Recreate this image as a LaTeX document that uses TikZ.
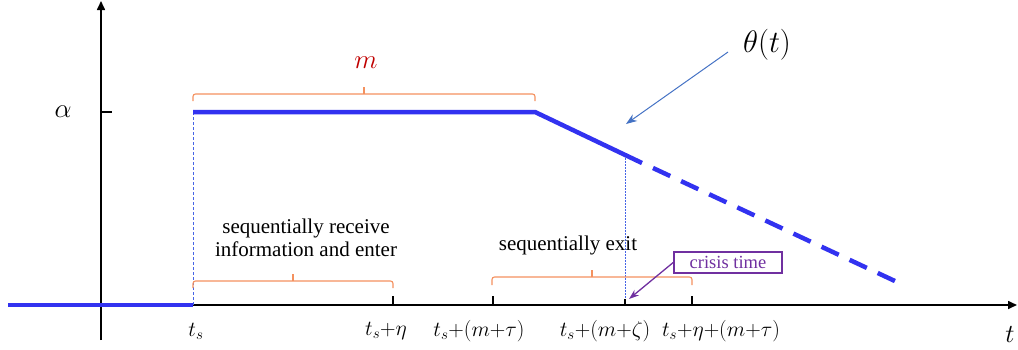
\RequirePackage{fix-cm}
\documentclass[tikz,border=0pt]{standalone}
\usepackage{fontspec}
\setmainfont{Liberation Serif}
\usetikzlibrary{arrows.meta, positioning}

\definecolor{lineblue}{RGB}{50,50,240}
\definecolor{arrowblue}{RGB}{68,114,196}
\definecolor{guideblue}{RGB}{70,100,230}
\definecolor{braceorange}{RGB}{244,145,95}
\definecolor{crisispurple}{RGB}{112,48,160}
\definecolor{mred}{RGB}{192,0,0}

\begin{document}
\begin{tikzpicture}[
    x=1pt, y=-1pt,
    axis/.style={line width=1.6pt, -{Triangle[length=9pt,width=8pt]}},
    tickmark/.style={line width=2.4pt},
    curve/.style={draw=lineblue, line width=4.5pt},
    guide/.style={draw=guideblue, line width=1pt},
    bracket/.style={draw=braceorange, line width=1.1pt, rounded corners=2.5pt},
    mathlabel/.style={font=\fontsize{21.5}{24}\selectfont, inner sep=0pt},
    note/.style={font=\fontsize{21}{23}\selectfont, align=center, inner sep=0pt}
]
    \useasboundingbox (0,0) rectangle (1018,349);

    % Coordinates
    \coordinate (xstart) at (8,305);
    \coordinate (ts) at (193,305);
    \coordinate (xend) at (1017,305);
    \coordinate (ybot) at (101,340);
    \coordinate (ytop) at (101,1);
    \coordinate (alphatick) at (112,112);
    \coordinate (plateau-l) at (193,112);
    \coordinate (plateau-r) at (535,112);
    \coordinate (crisis-pt) at (625,155);
    \coordinate (solid-end) at (642,163);
    \coordinate (dash-start) at (653,168);
    \coordinate (dash-end) at (897,282);
    \coordinate (eta) at (393,305);
    \coordinate (mtau) at (493,305);
    \coordinate (mzeta) at (625,305);
    \coordinate (etamtau) at (692,305);
    \coordinate (theta-tail) at (728,52);
    \coordinate (theta-head) at (626,124);

    % Axes
    \draw[axis] (ts) -- (xend);
    \draw[axis] (ybot) -- (ytop);
    \draw[line width=2pt] (ytop |- alphatick) -- (alphatick);

    % Ticks
    \draw[tickmark] (eta) -- ++(0,-9);
    \draw[tickmark] (mtau) -- ++(0,-9);
    \draw[tickmark] (etamtau) -- ++(0,-9);
    \draw[line width=1.6pt] (mzeta) -- ++(0,-6);

    % Guide lines
    \draw[guide, dash pattern=on 3pt off 2pt] (plateau-l) -- (ts);
    \draw[guide, dash pattern=on 1.5pt off 1.5pt] (crisis-pt) -- ++(0,144);

    % Theta(t)
    \draw[curve] (xstart) -- (ts);
    \draw[curve, line join=miter] (plateau-l) -- (plateau-r) -- (solid-end);
    \draw[curve, dash pattern=on 19pt off 12pt] (dash-start) -- (dash-end);

    % Brackets
    \draw[bracket] (193,101) -- (193,94) -- (535,94) -- (535,101);
    \draw[bracket] (364,94) -- (364,87);
    \draw[bracket] (193,288) -- (193,281) -- (393,281) -- (393,288);
    \draw[bracket] (293,281) -- (293,274);
    \draw[bracket] (492,285) -- (492,277) -- (692,277) -- (692,285);
    \draw[bracket] (592,277) -- (592,270);

    % Labels
    \node[mathlabel, font=\fontsize{27}{29}\selectfont] (alpha) at (63,112) {$\alpha$};
    \node[mathlabel, font=\fontsize{27}{29}\selectfont, text=mred] (mlabel) at (366,63) {$m$};
    \node[mathlabel, font=\fontsize{31}{33}\selectfont] (theta) at (767,45) {$\theta(t)$};
    \node[mathlabel, font=\fontsize{26}{28}\selectfont] (tlabel) at (1010,334) {$t$};
    \node[mathlabel] (tslabel) at (196,331) {$t_s$};
    \node[mathlabel] (etalabel) at (386,331) {$t_s{+}\eta$};
    \node[mathlabel] (mtaulabel) at (479,331) {$t_s{+}(m{+}\tau)$};
    \node[mathlabel] (mzetalabel) at (605,331) {$t_s{+}(m{+}\zeta)$};
    \node[mathlabel] (etamtaulabel) at (721,331) {$t_s{+}\eta{+}(m{+}\tau)$};

    \node[note] (enter) at (306,238) {sequentially receive\\information and enter};
    \node[note] (exit) at (568,245) {sequentially exit};
    \node[draw=crisispurple, line width=1.6pt, text=crisispurple, font=\fontsize{18.5}{20}\selectfont,
          minimum width=108pt, minimum height=21pt, inner sep=0pt] (crisis) at (728,262.5) {crisis time};

    % Arrows
    \draw[arrowblue, line width=1pt, -{Stealth[length=11pt,width=8pt]}] (theta-tail) -- (theta-head);
    \draw[crisispurple, line width=1.3pt, -{Stealth[length=10pt,width=7pt]}] (crisis.west) -- (629,299);
\end{tikzpicture}
\end{document}
